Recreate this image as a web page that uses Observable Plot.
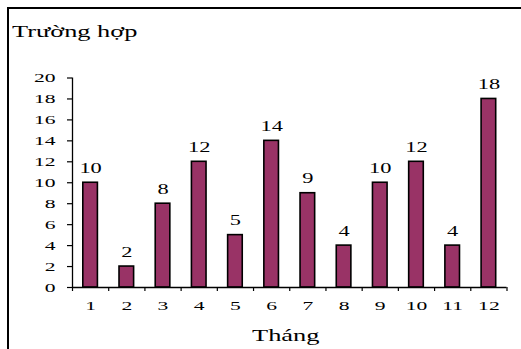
<!DOCTYPE html>
<html>
<head>
<meta charset="utf-8">
<script src="https://cdn.jsdelivr.net/npm/d3@7"></script>
<script src="https://cdn.jsdelivr.net/npm/@observablehq/plot@0.6"></script>
<style>
  html, body { margin: 0; padding: 0; background: #fff; }
  #wrap { position: relative; width: 521px; height: 349px; overflow: hidden; font-family: "Liberation Serif", "Times New Roman", serif; }
  #frame { position: absolute; left: 7px; top: 7px; width: 600px; height: 400px; border-left: 2px solid #000; border-top: 2px solid #000; }
  #chart { position: absolute; left: 0; top: 0; }
  .lbl { position: absolute; white-space: nowrap; color: #000; transform-origin: 0 0; }
  #title { left: 12px; top: 22px; font-size: 17px; transform: scaleX(1.55); }
  #xlabel { left: 252px; top: 327px; font-size: 16px; transform: scaleX(1.65); }
</style>
</head>
<body>
<div id="wrap">
  <div id="frame"></div>
  <div id="chart"></div>
  <div class="lbl" id="title">Trường hợp</div>
  <div class="lbl" id="xlabel">Tháng</div>
</div>
<script>
const months = [1, 2, 3, 4, 5, 6, 7, 8, 9, 10, 11, 12];
const cases = [10, 2, 8, 12, 5, 14, 9, 4, 10, 12, 4, 18];
const yTicks = [0, 2, 4, 6, 8, 10, 12, 14, 16, 18, 20];
const xBoundaries = [0.5, 1.5, 2.5, 3.5, 4.5, 5.5, 6.5, 7.5, 8.5, 9.5, 10.5, 11.5, 12.5];

const data = months.map((m, i) => ({month: m, value: cases[i]}));

const chart = Plot.plot({
  width: 521,
  height: 349,
  marginLeft: 72,
  marginRight: 14.5,
  marginTop: 77.5,
  marginBottom: 62,
  style: {fontFamily: "'Liberation Serif', 'Times New Roman', serif", background: "transparent", color: "#000"},
  x: {type: "linear", domain: [0.5, 12.5], axis: null},
  y: {domain: [0, 20], axis: null},
  marks: [
    Plot.rectY(data, {
      x1: d => d.month - 0.5,
      x2: d => d.month + 0.5,
      y: "value",
      insetLeft: 10.8,
      insetRight: 10.8,
      fill: "#993366",
      stroke: "#000",
      strokeWidth: 1.6
    }),
    Plot.ruleX([0.5], {stroke: "#000", strokeWidth: 1.3}),
    Plot.ruleY([0], {stroke: "#000", strokeWidth: 1.3}),
    Plot.axisY(yTicks, {tickSize: 5, tickPadding: 12, fontSize: 13.5, label: null, stroke: "#000", strokeWidth: 1.2}),
    Plot.axisX(xBoundaries, {tickSize: 4, tickFormat: () => "", label: null, stroke: "#000", strokeWidth: 1.2}),
    Plot.axisX(months, {tickSize: 0, tickPadding: 13, fontSize: 13.5, label: null}),
    Plot.text(data, {
      x: "month",
      y: "value",
      text: d => String(d.value),
      lineAnchor: "bottom",
      dy: -10,
      fontSize: 14,
      fill: "#000"
    })
  ]
});

// horizontally stretch text glyphs like the reference
const sx = 1.6;
chart.querySelectorAll("text").forEach(t => {
  let tr = t.getAttribute("transform") || "";
  const x = t.getAttribute("x");
  if (x !== null && /^[-\d.]+$/.test(x.trim())) {
    tr += ` translate(${x},0)`;
    t.removeAttribute("x");
  }
  t.setAttribute("transform", `${tr} scale(${sx},1)`.trim());
});

document.getElementById("chart").appendChild(chart);
</script>
</body>
</html>
